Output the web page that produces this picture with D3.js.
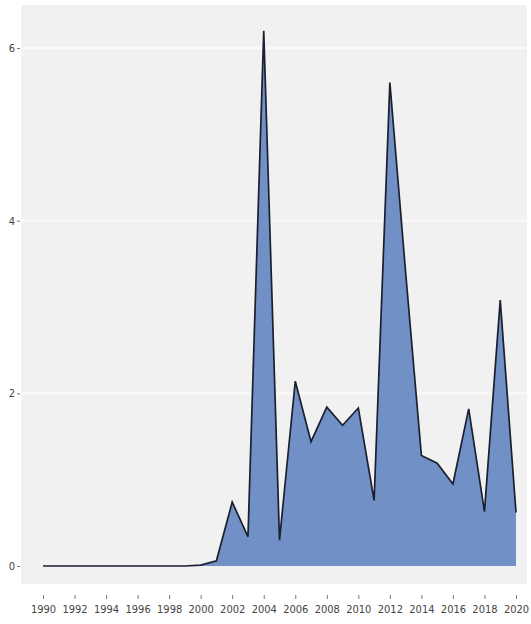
<!DOCTYPE html>
<html><head><meta charset="utf-8">
<script src="https://cdn.jsdelivr.net/npm/d3@7"></script>
<style>
html,body{margin:0;padding:0;background:#fff;}
svg text{font-family:"Liberation Sans Narrow","DejaVu Sans Condensed",sans-serif;}
</style></head>
<body>
<svg id="chart" width="531" height="624"></svg>
<script>
const years = d3.range(1990, 2021);
const values = [0,0,0,0,0,0,0,0,0,0,0.01,0.06,0.74,0.34,6.2,0.30,2.14,1.44,1.84,1.63,1.83,0.76,5.6,3.4,1.28,1.19,0.95,1.82,0.63,3.08,0.62];
const xTicks = d3.range(1990, 2021, 2);
const yTicks = [0,2,4,6];

const data = years.map((y,i)=>({year:y, value:values[i]}));
const svg = d3.select("#chart");
const panel = {left:21, top:5, right:527, bottom:584};
const x = d3.scaleLinear().domain([1990,2020]).range([43,516]);
const y = d3.scaleLinear().domain([0,6]).range([566,48]);

svg.append("rect").attr("x",panel.left).attr("y",panel.top)
  .attr("width",panel.right-panel.left).attr("height",panel.bottom-panel.top)
  .attr("fill","#f1f1f1");

svg.append("g").selectAll("line").data(yTicks.filter(d=>d>0)).join("line")
  .attr("x1",panel.left).attr("x2",panel.right)
  .attr("y1",d=>y(d)).attr("y2",d=>y(d))
  .attr("stroke","#fcfcfc").attr("stroke-width",1.6);

const area = d3.area().x(d=>x(d.year)).y0(y(0)).y1(d=>y(d.value));
const line = d3.line().x(d=>x(d.year)).y(d=>y(d.value));
svg.append("path").datum(data).attr("d",area).attr("fill","#7190c6");
svg.append("path").datum(data).attr("d",line).attr("fill","none")
  .attr("stroke","#1b1f2e").attr("stroke-width",1.7).attr("stroke-linejoin","miter");

const xAxis = d3.axisBottom(x).tickValues(xTicks).tickFormat(d3.format("d")).tickSize(4).tickPadding(6);
const gx = svg.append("g").attr("transform",`translate(0,${panel.bottom+11})`).call(xAxis);
gx.select(".domain").remove();
gx.selectAll(".tick line").attr("stroke","#777");
gx.selectAll(".tick text").attr("fill","#444").attr("font-size",11);

const yAxis = d3.axisLeft(y).tickValues(yTicks).tickFormat(d3.format("d")).tickSize(3).tickPadding(2);
const gy = svg.append("g").attr("transform",`translate(${panel.left-1},0)`).call(yAxis);
gy.select(".domain").remove();
gy.selectAll(".tick line").attr("stroke","#777");
gy.selectAll(".tick text").attr("fill","#444").attr("font-size",11);
</script>
</body></html>
